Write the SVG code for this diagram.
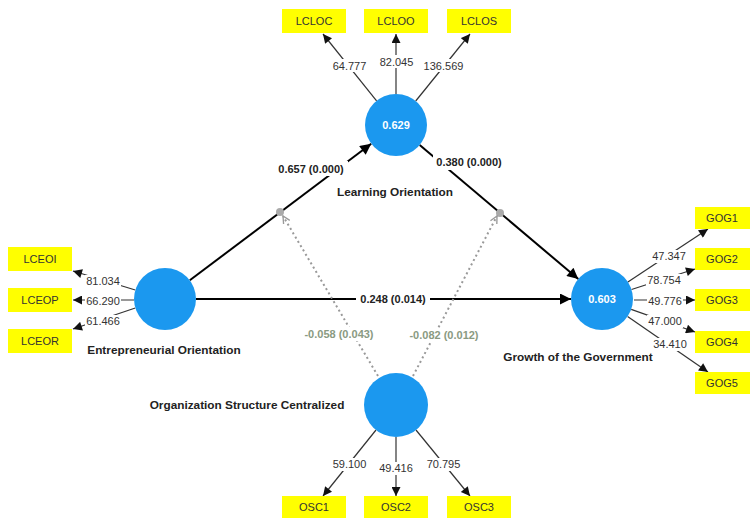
<svg xmlns="http://www.w3.org/2000/svg" width="751" height="518" viewBox="0 0 751 518">
<style>
text{font-family:"Liberation Sans",Arial,sans-serif;font-size:11px;fill:#333;text-anchor:middle}
.b{font-weight:bold;fill:#222}
.n{font-weight:bold;fill:#222;font-size:11.8px}
.w{font-weight:bold;fill:#fff}
.g{font-weight:bold;fill:#8a9a82}
.box{fill:#ffff00}
.lv{fill:#1b98ef}
.ind{stroke:#333;stroke-width:1.2;fill:none}
.str{stroke:#000;stroke-width:2;fill:none}
.mod{stroke:#999;stroke-width:2;stroke-dasharray:2,3;fill:none}
.bg{fill:#fff}
</style>
<defs>
<marker id="ah" viewBox="0 0 10 10" refX="10" refY="5" markerWidth="11" markerHeight="9" markerUnits="userSpaceOnUse" orient="auto"><path d="M0,0 L10,5 L0,10 z" fill="#111"/></marker>
<marker id="ahs" viewBox="0 0 10 10" refX="10" refY="5" markerWidth="13" markerHeight="11" markerUnits="userSpaceOnUse" orient="auto"><path d="M0,0 L10,5 L0,10 z" fill="#000"/></marker>
<marker id="aho" viewBox="0 0 10 10" refX="9" refY="5" markerWidth="9" markerHeight="9" markerUnits="userSpaceOnUse" orient="auto"><path d="M1,1 L9,5 L1,9" fill="none" stroke="#999" stroke-width="1.5"/></marker>
</defs>
<g id="connectors">
<line class="str" x1="189.8" y1="280.3" x2="371.2" y2="143.7" marker-end="url(#ahs)"/>
<line class="str" x1="196" y1="299" x2="571" y2="299" marker-end="url(#ahs)"/>
<line class="str" x1="419.7" y1="145" x2="578.3" y2="279" marker-end="url(#ahs)"/>
<circle cx="280" cy="212" r="4" fill="#aaa"/>
<circle cx="500" cy="213" r="4" fill="#aaa"/>
<line class="mod" x1="378" y1="376" x2="283" y2="216" marker-end="url(#aho)"/>
<line class="mod" x1="413" y1="376" x2="497" y2="216" marker-end="url(#aho)"/>
<rect class="bg" x="276" y="161" width="72" height="15"/>
<text class="b" x="311" y="173">0.657 (0.000)</text>
<rect class="bg" x="433" y="155" width="72" height="15"/>
<text class="b" x="469" y="166">0.380 (0.000)</text>
<rect class="bg" x="356" y="292" width="74" height="14"/>
<text class="b" x="393" y="303">0.248 (0.014)</text>
<rect class="bg" x="302" y="327" width="74" height="14"/>
<text class="g" x="339" y="338">-0.058 (0.043)</text>
<rect class="bg" x="407" y="328" width="74" height="14"/>
<text class="g" x="444" y="339">-0.082 (0.012)</text>
<!-- LO indicators -->
<line class="ind" x1="376.6" y1="100.8" x2="323" y2="34" marker-end="url(#ah)"/>
<line class="ind" x1="396" y1="94" x2="396" y2="34" marker-end="url(#ah)"/>
<line class="ind" x1="415.7" y1="101" x2="470" y2="34" marker-end="url(#ah)"/>
<rect class="bg" x="331" y="59" width="36" height="13"/><text x="349.5" y="70">64.777</text>
<rect class="bg" x="378" y="55" width="36" height="13"/><text x="396.5" y="66">82.045</text>
<rect class="bg" x="423" y="59" width="41" height="13"/><text x="443.5" y="70">136.569</text>
<!-- EO indicators -->
<line class="ind" x1="135.3" y1="290" x2="73" y2="271" marker-end="url(#ah)"/>
<line class="ind" x1="134" y1="300" x2="73" y2="300" marker-end="url(#ah)"/>
<line class="ind" x1="135.3" y1="308" x2="73" y2="329" marker-end="url(#ah)"/>
<rect class="bg" x="85" y="275" width="36" height="13"/><text x="103" y="285">81.034</text>
<rect class="bg" x="85" y="295" width="36" height="12"/><text x="103" y="305">66.290</text>
<rect class="bg" x="85" y="315" width="36" height="13"/><text x="103" y="325">61.466</text>
<!-- GOG indicators -->
<line class="ind" x1="627.9" y1="281.9" x2="708" y2="229" marker-end="url(#ah)"/>
<line class="ind" x1="631.5" y1="289.5" x2="695" y2="269" marker-end="url(#ah)"/>
<line class="ind" x1="634" y1="300" x2="695" y2="300" marker-end="url(#ah)"/>
<line class="ind" x1="631.2" y1="309.4" x2="695" y2="332" marker-end="url(#ah)"/>
<line class="ind" x1="627.6" y1="316.4" x2="708" y2="372" marker-end="url(#ah)"/>
<rect class="bg" x="651" y="250" width="36" height="13"/><text x="669" y="260">47.347</text>
<rect class="bg" x="646" y="274" width="36" height="13"/><text x="664" y="284">78.754</text>
<rect class="bg" x="647" y="295" width="36" height="12"/><text x="665" y="305">49.776</text>
<rect class="bg" x="647" y="315" width="36" height="13"/><text x="665" y="325">47.000</text>
<rect class="bg" x="652" y="338" width="36" height="13"/><text x="670" y="348">34.410</text>
<!-- OSC indicators -->
<line class="ind" x1="376" y1="430" x2="323" y2="496" marker-end="url(#ah)"/>
<line class="ind" x1="396" y1="437" x2="396" y2="496" marker-end="url(#ah)"/>
<line class="ind" x1="416" y1="430" x2="470" y2="496" marker-end="url(#ah)"/>
<rect class="bg" x="331" y="458" width="36" height="13"/><text x="349.5" y="468">59.100</text>
<rect class="bg" x="378" y="462" width="36" height="13"/><text x="396" y="472">49.416</text>
<rect class="bg" x="425" y="458" width="36" height="13"/><text x="443.5" y="468">70.795</text>
</g>
<g id="LO">
<circle class="lv" cx="396" cy="125" r="31"/>
<text class="w" x="396" y="129">0.629</text>
<text class="n" x="395" y="196">Learning Orientation</text>
</g>
<g id="EO">
<circle class="lv" cx="165" cy="299" r="31"/>
<text class="n" x="164" y="354">Entrepreneurial Orientation</text>
</g>
<g id="GOG">
<circle class="lv" cx="602" cy="299" r="31"/>
<text class="w" x="602" y="303">0.603</text>
<text class="n" x="578" y="361">Growth of the Government</text>
</g>
<g id="OSC">
<circle class="lv" cx="396" cy="405" r="32"/>
<text class="n" x="247" y="409">Organization Structure Centralized</text>
</g>
<g id="LCLOC"><rect class="box" x="282" y="9" width="64" height="24"/><text x="314" y="25">LCLOC</text></g>
<g id="LCLOO"><rect class="box" x="364" y="9" width="64" height="24"/><text x="396" y="25">LCLOO</text></g>
<g id="LCLOS"><rect class="box" x="447" y="9" width="64" height="24"/><text x="479" y="25">LCLOS</text></g>
<g id="LCEOI"><rect class="box" x="8" y="247" width="64" height="24"/><text x="40" y="263">LCEOI</text></g>
<g id="LCEOP"><rect class="box" x="8" y="288" width="64" height="24"/><text x="40" y="304">LCEOP</text></g>
<g id="LCEOR"><rect class="box" x="8" y="329" width="64" height="24"/><text x="40" y="345">LCEOR</text></g>
<g id="GOG1"><rect class="box" x="695" y="207" width="55" height="22"/><text x="722" y="222">GOG1</text></g>
<g id="GOG2"><rect class="box" x="695" y="248" width="55" height="22"/><text x="722" y="263">GOG2</text></g>
<g id="GOG3"><rect class="box" x="695" y="289" width="55" height="22"/><text x="722" y="304">GOG3</text></g>
<g id="GOG4"><rect class="box" x="695" y="331" width="55" height="22"/><text x="722" y="346">GOG4</text></g>
<g id="GOG5"><rect class="box" x="695" y="372" width="55" height="22"/><text x="722" y="387">GOG5</text></g>
<g id="OSC1"><rect class="box" x="282" y="496" width="64" height="24"/><text x="314" y="511">OSC1</text></g>
<g id="OSC2"><rect class="box" x="364" y="496" width="64" height="24"/><text x="396" y="511">OSC2</text></g>
<g id="OSC3"><rect class="box" x="447" y="496" width="64" height="24"/><text x="479" y="511">OSC3</text></g>
</svg>
